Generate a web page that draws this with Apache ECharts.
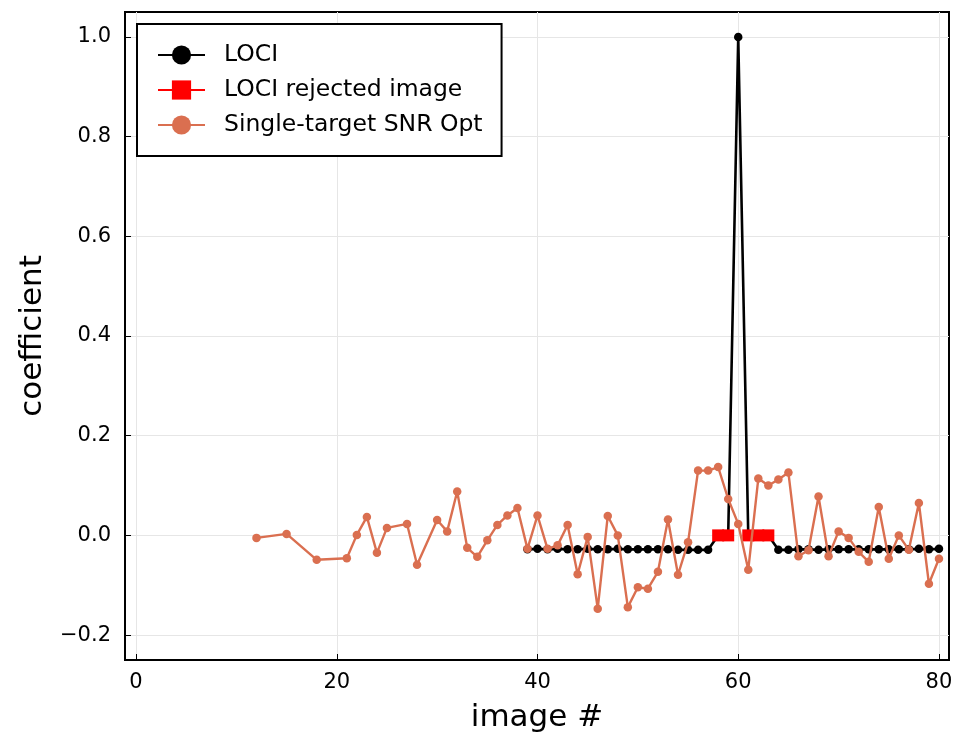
<!DOCTYPE html>
<html>
<head>
<meta charset="utf-8">
<title>LOCI vs Single-target SNR Opt coefficients</title>
<script src="https://cdn.jsdelivr.net/npm/echarts@6/dist/echarts.min.js"></script>
<style>
  html, body { margin: 0; padding: 0; background: #fff; }
  #chart { width: 953px; height: 734px; }
</style>
</head>
<body>
<div id="chart"></div>
<script>
// LOCI coefficients per image (rejected images carry 0, the target image carries 1)
const lociImages = [39, 40, 41, 42, 43, 44, 45, 46, 47, 48, 49, 50, 51, 52, 53, 54, 55, 56, 57, 58,
                    59, 60, 61, 62, 63, 64, 65, 66, 67, 68, 69, 70, 71, 72, 73, 74, 75, 76, 77, 78, 79, 80];
const lociValues = [-0.028, -0.027, -0.028, -0.027, -0.028, -0.028, -0.027, -0.028, -0.028, -0.027,
                    -0.028, -0.028, -0.028, -0.028, -0.028, -0.029, -0.029, -0.029, -0.029, 0.0,
                    0.0, 1.0, 0.0, 0.0, 0.0, -0.029, -0.029, -0.028, -0.028, -0.029,
                    -0.028, -0.028, -0.028, -0.028, -0.028, -0.028, -0.028, -0.028, -0.028, -0.027,
                    -0.028, -0.027];

// Images rejected by LOCI (null breaks the line at the target image)
const rejectedImages = [58, 59, 60, 61, 62, 63];
const rejectedValues = [0.0, 0.0, null, 0.0, 0.0, 0.0];

// Single-target SNR optimisation coefficients
const snrImages = [12, 15, 18, 21, 22, 23, 24, 25, 27, 28, 30, 31, 32, 33, 34, 35, 36, 37, 38, 39,
                   40, 41, 42, 43, 44, 45, 46, 47, 48, 49, 50, 51, 52, 53, 54, 55, 56, 57, 58, 59,
                   60, 61, 62, 63, 64, 65, 66, 67, 68, 69, 70, 71, 72, 73, 74, 75, 76, 77, 78, 79, 80];
const snrValues = [-0.005, 0.003, -0.049, -0.046, 0.001, 0.037, -0.035, 0.015, 0.023, -0.059,
                   0.031, 0.008, 0.088, -0.025, -0.043, -0.010, 0.021, 0.040, 0.055, -0.027,
                   0.040, -0.027, -0.020, 0.021, -0.078, -0.003, -0.147, 0.039, 0.000, -0.144,
                   -0.104, -0.107, -0.073, 0.032, -0.079, -0.014, 0.130, 0.130, 0.137, 0.073,
                   0.023, -0.069, 0.114, 0.100, 0.112, 0.126, -0.042, -0.030, 0.078, -0.042,
                   0.008, -0.005, -0.033, -0.053, 0.057, -0.047, 0.000, -0.029, 0.065, -0.097,
                   -0.047];

// Axis ticks
const xTicks = [0, 20, 40, 60, 80];
const yTicks = [-0.2, 0.0, 0.2, 0.4, 0.6, 0.8, 1.0];

const pairs = (xs, ys) => xs.map((x, i) => [x, ys[i]]);
const FONT = 'DejaVu Sans';

const chart = echarts.init(document.getElementById('chart'), null, { renderer: 'canvas' });

chart.setOption({
  animation: false,
  backgroundColor: '#ffffff',
  textStyle: { fontFamily: FONT },
  grid: {
    left: 125, right: 4, top: 12, bottom: 74,
    outerBoundsMode: 'none',
    containLabel: false,
    show: true, borderColor: '#000', borderWidth: 2, backgroundColor: 'transparent'
  },
  legend: {
    orient: 'vertical',
    left: 137, top: 24,
    padding: [19, 19, 19, 20],
    itemWidth: 47, itemHeight: 24, itemGap: 11,
    backgroundColor: '#fff',
    borderColor: '#000', borderWidth: 2, borderRadius: 0,
    textStyle: { fontFamily: FONT, fontSize: 23.5, color: '#000', padding: [0, 0, 0, 14] },
    data: ['LOCI', 'LOCI rejected image', 'Single-target SNR Opt']
  },
  xAxis: {
    type: 'value',
    min: -1.1, max: 81,
    name: 'image #',
    nameLocation: 'middle',
    nameGap: 42,
    nameTextStyle: { fontFamily: FONT, fontSize: 31, color: '#000' },
    axisLine: { show: true, onZero: false, lineStyle: { color: '#000', width: 2 } },
    axisTick: { show: true, inside: true, length: 6, customValues: xTicks, lineStyle: { color: '#000', width: 1 } },
    axisLabel: { customValues: xTicks, fontFamily: FONT, fontSize: 21, color: '#000', margin: 12 },
    splitLine: { show: true, lineStyle: { color: '#e6e6e6', width: 1 } }
  },
  yAxis: {
    type: 'value',
    min: -0.25, max: 1.05,
    name: 'coefficient',
    nameLocation: 'middle',
    nameGap: 77,
    nameTextStyle: { fontFamily: FONT, fontSize: 31, color: '#000' },
    axisLine: { show: true, onZero: false, lineStyle: { color: '#000', width: 2 } },
    axisTick: { show: true, inside: true, length: 6, customValues: yTicks, lineStyle: { color: '#000', width: 1 } },
    axisLabel: {
      customValues: yTicks, fontFamily: FONT, fontSize: 21, color: '#000', margin: 14,
      formatter: v => (v < -1e-9 ? '\u2212' : '') + Math.abs(v).toFixed(1)
    },
    splitLine: { show: true, lineStyle: { color: '#e6e6e6', width: 1 } }
  },
  series: [
    {
      name: 'LOCI',
      type: 'line',
      data: pairs(lociImages, lociValues),
      symbol: 'circle', symbolSize: 8.5, showAllSymbol: true,
      itemStyle: { color: '#000' },
      lineStyle: { color: '#000', width: 2.6 },
      z: 2
    },
    {
      name: 'LOCI rejected image',
      type: 'line',
      data: pairs(rejectedImages, rejectedValues),
      connectNulls: false,
      symbol: 'rect', symbolSize: 12, showAllSymbol: true,
      itemStyle: { color: '#ff0000' },
      lineStyle: { color: '#ff0000', width: 2.6 },
      z: 3
    },
    {
      name: 'Single-target SNR Opt',
      type: 'line',
      data: pairs(snrImages, snrValues),
      symbol: 'circle', symbolSize: 8.5, showAllSymbol: true,
      itemStyle: { color: '#da6f50' },
      lineStyle: { color: '#da6f50', width: 2.4 },
      z: 4
    }
  ]
});
</script>
</body>
</html>
